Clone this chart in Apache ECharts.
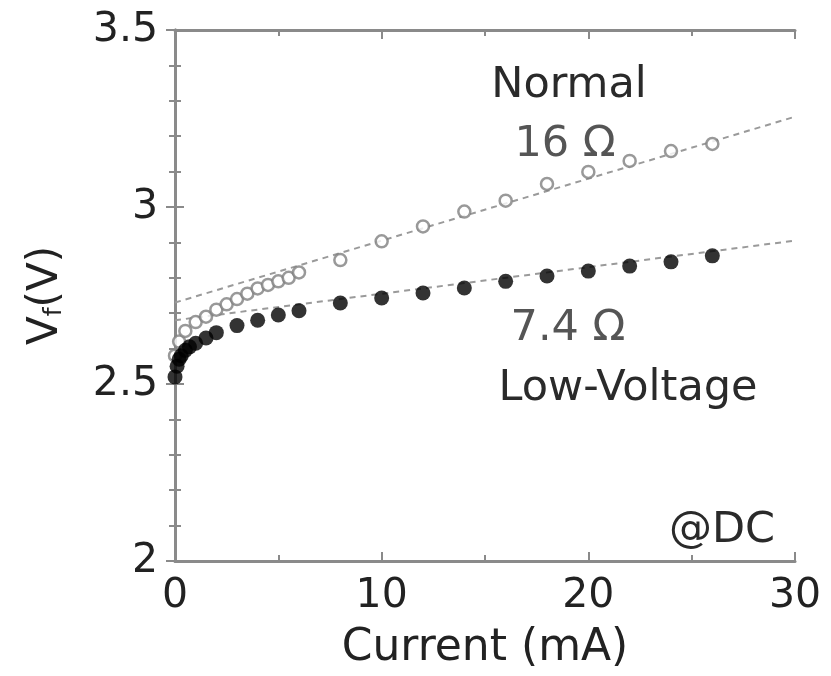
<!DOCTYPE html>
<html>
<head>
<meta charset="utf-8">
<script src="https://cdn.jsdelivr.net/npm/echarts@6/dist/echarts.min.js"></script>
<style>
  html, body { margin: 0; padding: 0; background: #fff; }
  #chart { width: 831px; height: 676px; }
</style>
</head>
<body>
<div id="chart"></div>
<script>
// Normal device (open circles)
const normalI = [0, 0.2, 0.5, 1, 1.5, 2, 2.5, 3, 3.5, 4, 4.5, 5, 5.5, 6, 8, 10, 12, 14, 16, 18, 20, 22, 24, 26]
const normalV = [2.58, 2.62, 2.65, 2.675, 2.69, 2.71, 2.725, 2.74, 2.755, 2.77, 2.78, 2.79, 2.8, 2.815,
  2.85, 2.903, 2.945, 2.987, 3.018, 3.065, 3.099, 3.13, 3.158, 3.178]

// Low-voltage device (filled circles)
const lowI = [0, 0.1, 0.2, 0.3, 0.5, 0.7, 1, 1.5, 2, 3, 4, 5, 6, 8, 10, 12, 14, 16, 18, 20, 22, 24, 26]
const lowV = [2.52, 2.55, 2.57, 2.58, 2.595, 2.605, 2.615, 2.63, 2.645, 2.665, 2.68, 2.695, 2.707,
  2.729, 2.743, 2.757, 2.771, 2.79, 2.805, 2.819, 2.833, 2.845, 2.862]

// linear fits (16 ohm and 7.4 ohm)
const fitI = [0, 30]
const fitNormalV = [2.73, 3.255]
const fitLowV = [2.68, 2.905]

const xTicks = [0, 10, 20, 30]
const yTicks = [2, 2.5, 3, 3.5]

const pairs = (xs, ys) => xs.map((x, i) => [x, ys[i]])

const frameColor = '#8a8a8a'
const font = 'DejaVu Sans, Liberation Sans, sans-serif'

const chart = echarts.init(document.getElementById('chart'))

const baseAxisLine = { show: true, lineStyle: { color: frameColor, width: 3 } }
const tickStyle = { inside: true, length: 9, lineStyle: { color: frameColor, width: 2 } }
const minorStyle = { show: true, length: 6, lineStyle: { color: frameColor, width: 2 } }

function note(text, x, y, color) {
  return {
    type: 'text', x: x, y: y,
    style: { text: text, font: '43px ' + font, fill: color, align: 'center', verticalAlign: 'middle' }
  }
}

const option = {
  backgroundColor: '#fff',
  animation: false,
  grid: { left: 175, right: 36, top: 30, bottom: 111 },
  xAxis: [{
    type: 'value',
    min: xTicks[0],
    max: xTicks[xTicks.length - 1],
    interval: 10,
    position: 'bottom',
    name: 'Current (mA)',
    nameLocation: 'middle',
    nameGap: 66,
    nameTextStyle: { fontFamily: font, fontSize: 44, color: '#222' },
    axisLine: baseAxisLine,
    axisTick: Object.assign({ show: true }, tickStyle),
    minorTick: Object.assign({ splitNumber: 2 }, minorStyle),
    axisLabel: { fontFamily: font, fontSize: 41, color: '#222', margin: 15 },
    splitLine: { show: false }
  }, {
    type: 'value',
    min: 0,
    max: 30,
    interval: 10,
    position: 'top',
    axisLine: baseAxisLine,
    axisTick: Object.assign({ show: true }, tickStyle),
    minorTick: Object.assign({ splitNumber: 2 }, minorStyle),
    axisLabel: { show: false },
    splitLine: { show: false }
  }],
  yAxis: [{
    type: 'value',
    min: yTicks[0],
    max: yTicks[yTicks.length - 1],
    interval: 0.5,
    position: 'left',
    name: 'V{sub|f}(V)',
    nameLocation: 'middle',
    nameGap: 108,
    nameRotate: 90,
    nameTextStyle: {
      fontFamily: font, fontSize: 42, color: '#222',
      rich: { sub: { fontFamily: font, fontSize: 25, color: '#222', verticalAlign: 'bottom', padding: [16, 0, 0, 0] } }
    },
    axisLine: baseAxisLine,
    axisTick: Object.assign({ show: true }, tickStyle),
    minorTick: Object.assign({ splitNumber: 5 }, minorStyle),
    axisLabel: { fontFamily: font, fontSize: 41, color: '#222', margin: 17 },
    splitLine: { show: false }
  }, {
    type: 'value',
    min: 2,
    max: 3.5,
    interval: 0.5,
    position: 'right',
    axisLine: baseAxisLine,
    axisTick: Object.assign({ show: true }, tickStyle),
    minorTick: Object.assign({ splitNumber: 5 }, minorStyle),
    axisLabel: { show: false },
    splitLine: { show: false }
  }],
  graphic: [
    note('Normal', 569, 86, '#2a2a2a'),
    note('16 Ω', 565, 145, '#555'),
    note('7.4 Ω', 568, 329, '#555'),
    note('Low-Voltage', 628, 389, '#2a2a2a'),
    note('@DC', 722, 531, '#2a2a2a')
  ],
  series: [{
    name: 'fit normal',
    type: 'line',
    data: pairs(fitI, fitNormalV),
    showSymbol: false,
    lineStyle: { color: '#9a9a9a', width: 2, type: [6, 5] },
    z: 1
  }, {
    name: 'fit low',
    type: 'line',
    data: pairs(fitI, fitLowV),
    showSymbol: false,
    lineStyle: { color: '#9a9a9a', width: 2, type: [6, 5] },
    z: 1
  }, {
    name: 'Normal',
    type: 'scatter',
    data: pairs(normalI, normalV),
    symbol: 'circle',
    symbolSize: 12,
    itemStyle: { color: '#fff', borderColor: '#808080', borderWidth: 2.5 },
    z: 3
  }, {
    name: 'Low-Voltage',
    type: 'scatter',
    data: pairs(lowI, lowV),
    symbol: 'circle',
    symbolSize: 15,
    itemStyle: { color: '#000' },
    z: 4
  }]
}

chart.setOption(option)
</script>
</body>
</html>
